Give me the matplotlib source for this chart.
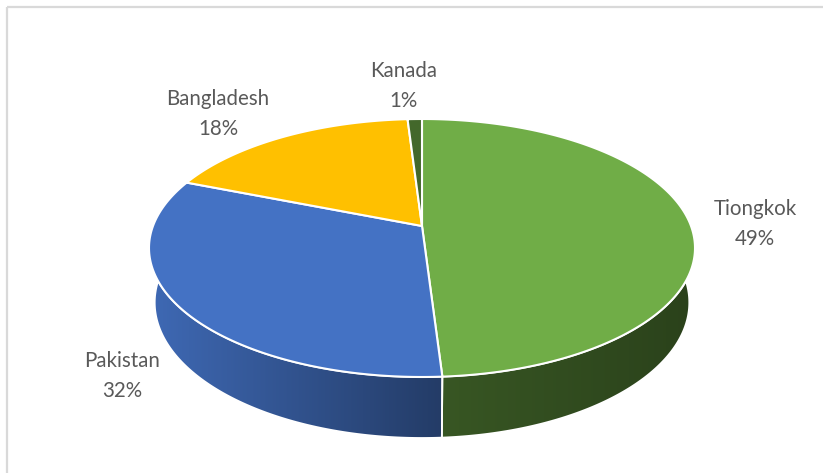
import numpy as np
import matplotlib
matplotlib.use("Agg")
import matplotlib.pyplot as plt
from matplotlib.patches import Polygon, Rectangle
from matplotlib.colors import to_rgb

# ---- data ----
categories = ["Tiongkok", "Pakistan", "Bangladesh", "Kanada"]
values = [49, 32, 18, 1]
colors = ["#70AD47", "#4472C4", "#FFC000", "#43682B"]

# ---- layout (pixel space) ----
W, H = 823, 473
cx0, cy0 = 422.0, 226.0     # projected pie centre
ang_s, ang_c = 0.4656, 0.885  # sin/cos of tilt
D = 5.19                     # camera distance (radius units)
F = 269.0 * D                # focal scale
h = 0.231                    # pie thickness (radius units)
label_pos = [(755, 224), (122, 376), (218, 114), (404, 86)]
text_color = "#595959"

fig = plt.figure(figsize=(W / 100, H / 100), dpi=100)
ax = fig.add_axes([0, 0, 1, 1])
ax.set_xlim(0, W)
ax.set_ylim(H, 0)
ax.axis("off")

# border of chart area
ax.add_patch(Rectangle((7, 7), W + 20, H + 20, fill=False, ec="#D9D9D9", lw=1.6, zorder=0))

def proj(t, w):
    x, y = np.cos(t), np.sin(t)
    up = y * ang_s + w * ang_c
    z = D + y * ang_c - w * ang_s
    return cx0 + x * F / z, cy0 - up * F / z

def top_pt(t):
    return proj(t, 0.0)

def bot_pt(t):
    return proj(t, -h)

total = float(sum(values))
fracs = [v / total for v in values]
# angles: start at 12 o'clock, clockwise
starts, ends = [], []
ang = 90.0
for f in fracs:
    e = ang - 360 * f
    starts.append(ang)
    ends.append(e)
    ang = e

shade = {colors[0]: ([440, 693], [0.50, 0.38]),
         colors[1]: ([150, 438], [0.92, 0.53])}

# ---- side faces (front half, slightly extended behind silhouette) ----
xs = np.arange(W)
for s, e, col in zip(starts, ends, colors):
    lo, hi = e, s
    segs = []
    for k in (-360, 0, 360):
        l2, h2 = max(lo + k, -200), min(hi + k, 20)
        if h2 > l2:
            segs.append((l2, h2))
    base = np.array(to_rgb(col))
    for l2, h2 in segs:
        th = np.radians(np.linspace(l2, h2, 300))
        tx, ty = top_pt(th)
        bx, by = bot_pt(th[::-1])
        poly = np.column_stack([np.concatenate([tx, bx]), np.concatenate([ty, by])])
        patch = Polygon(poly, closed=True, fc="none", ec="none")
        ax.add_patch(patch)
        sx_, sf_ = shade.get(col, ([0, W], [0.6, 0.5]))
        fx = np.interp(xs, sx_, sf_)
        img = np.clip(base[None, None, :] * fx[None, :, None], 0, 1)
        im = ax.imshow(img, extent=(0, W, H, 0), aspect="auto",
                       interpolation="bilinear", zorder=1)
        im.set_clip_path(patch)
        ax.add_patch(Polygon(poly, closed=True, fc="none", ec="white", lw=1.3, zorder=2))

# ---- top wedges ----
for s, e, col in zip(starts, ends, colors):
    th = np.radians(np.linspace(s, e, 300))
    tx, ty = top_pt(th)
    poly = np.column_stack([np.concatenate([[cx0], tx]), np.concatenate([[cy0], ty])])
    ax.add_patch(Polygon(poly, closed=True, fc=col, ec="white", lw=1.5, zorder=3,
                         joinstyle="round"))

ax.set_xlim(0, W)
ax.set_ylim(H, 0)

# ---- labels ----
for name, v, (lx, ly) in zip(categories, values, label_pos):
    ax.text(lx, ly, f"{name}\n{round(100 * v / total)}%", ha="center", va="center",
            fontsize=14.8, color=text_color, family=["Lato", "DejaVu Sans"],
            linespacing=1.6, zorder=5)

fig.savefig("out.png", dpi=100)
